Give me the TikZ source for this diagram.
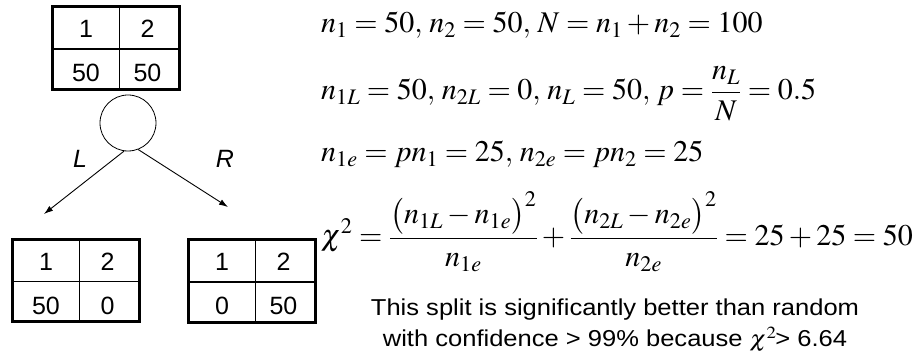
\documentclass[tikz,border=0pt]{standalone}
\usepackage{mathptmx}
\usepackage[no-math]{fontspec}
\setsansfont{Liberation Sans}
\usetikzlibrary{arrows.meta,calc}
\tikzset{
  outerbox/.style={draw, line width=3pt, minimum width=127pt, minimum height=82.5pt, inner sep=0pt},
  innerline/.style={line width=1.1pt},
  cell/.style={anchor=base, inner sep=0pt, font=\fontsize{25}{29}\sffamily},
  eq/.style={anchor=base west, inner sep=0pt, font=\fontsize{30}{36}\selectfont},
  lbl/.style={font=\fontsize{25}{29}\sffamily\itshape},
  note/.style={anchor=base, inner sep=0pt, xscale=1.11, transform shape, font=\fontsize{23}{27}\sffamily},
  arr/.style={line width=0.9pt, -{Latex[length=9pt,width=6pt]}}
}
\newcommand\ctable[7]{%
  \draw[innerline] ($(#2,#3)+(67,0)$) -- ($(#2,#3)+(67,82.5)$);
  \draw[innerline] ($(#2,#3)+(0,42)$) -- ($(#2,#3)+(127,42)$);
  \node[outerbox] (#1) at ($(#2,#3)+(63.5,41.25)$) {};
  \node[cell] (#1-a) at ($(#2,#3)+(33.5,31)$) {#4};
  \node[cell] (#1-b) at ($(#2,#3)+(95,31)$) {#5};
  \node[cell] (#1-c) at ($(#2,#3)+(33.5,75)$) {#6};
  \node[cell] (#1-d) at ($(#2,#3)+(95,75)$) {#7};
}
\begin{document}
\begin{tikzpicture}[x=1pt,y=-1pt]
\useasboundingbox (0,0) rectangle (914,355);
\ctable{top}{52.5}{7}{1}{2}{50}{50}
\ctable{bl}{12.5}{239.5}{1}{2}{50}{0}
\ctable{br}{188.5}{240}{1}{2}{0}{50}
\node[draw, circle, minimum size=56pt, inner sep=0pt, line width=0.8pt] (split) at (128,123) {};
\coordinate (lend) at (44,214);
\coordinate (rend) at (228,207);
\draw[arr] (split.-98) -- (lend);
\draw[arr] (split.-69) -- (rend);
\node[lbl] (L) at (80,159) {L};
\node[lbl] (R) at (225,159) {R};
\node[eq] (e1) at (321,33) {$n_1 = 50,\, n_2 = 50,\, N = n_1 + n_2 = 100$};
\node[eq] (e2) at (321,100) {$n_{1L} = 50,\, n_{2L} = 0,\, n_L = 50,\, p = \displaystyle\frac{n_L}{N} = 0.5$};
\node[eq] (e3) at (321,162) {$n_{1e} = pn_1 = 25,\, n_{2e} = pn_2 = 25$};
\node[eq] (e4) at (321,246) {$\displaystyle \chi^2 = \frac{\bigl(n_{1L}-n_{1e}\bigr)^2}{n_{1e}} + \frac{\bigl(n_{2L}-n_{2e}\bigr)^2}{n_{2e}} = 25+25=50$};
\node[note] (t1) at (615,316) {This split is significantly better than random};
\node[note] (t2) at (615,347) {with confidence > 99\% because $\chi^2$\kern-1pt> 6.64};
\end{tikzpicture}
\end{document}
